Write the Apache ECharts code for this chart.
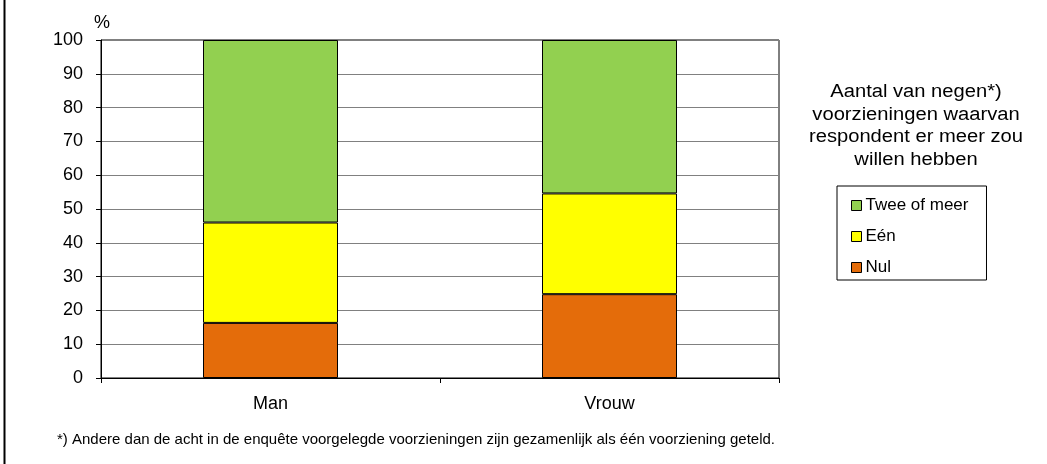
<!DOCTYPE html>
<html>
<head>
<meta charset="utf-8">
<script src="https://cdn.jsdelivr.net/npm/echarts@6/dist/echarts.min.js"></script>
<style>
  html, body { margin: 0; padding: 0; background: #fff; }
  #chart { width: 1047px; height: 464px; }
</style>
</head>
<body>
<div id="chart"></div>
<script>
  // categorieen en waarden (%)
  var categories = ['Man', 'Vrouw'];
  var nul = [16.3, 24.8];
  var een = [29.7, 29.8];
  var tweeOfMeer = [54.0, 45.4];
  var seriesNames = ['Nul', 'Eén', 'Twee of meer'];
  var yTicks = [0, 10, 20, 30, 40, 50, 60, 70, 80, 90, 100];

  var fontFam = '"Liberation Sans", Arial, sans-serif';
  var myChart = echarts.init(document.getElementById('chart'));

  function barSerie(name, data, color) {
    return {
      name: name,
      type: 'bar',
      stack: 'totaal',
      barWidth: 135,
      data: data,
      itemStyle: { color: color, borderColor: '#000', borderWidth: 1 }
    };
  }

  var option = {
    backgroundColor: '#fff',
    animation: false,
    textStyle: { fontFamily: fontFam, color: '#000' },
    grid: {
      left: 101,
      right: 268,
      top: 40,
      bottom: 86,
      show: true,
      borderColor: '#000',
      borderWidth: 1
    },
    legend: {
      data: seriesNames.slice().reverse(),
      orient: 'vertical',
      left: 837,
      top: 186,
      icon: 'rect',
      itemWidth: 10,
      itemHeight: 10,
      itemGap: 14,
      padding: [11, 18, 4, 14],
      borderColor: '#000',
      borderWidth: 1,
      itemStyle: { borderColor: '#000', borderWidth: 1 },
      textStyle: { fontFamily: fontFam, fontSize: 17, color: '#000', padding: [0, 0, 0, -1] }
    },
    xAxis: {
      type: 'category',
      data: categories,
      axisLine: { lineStyle: { color: '#000', width: 1 } },
      axisTick: { show: true, length: 5, lineStyle: { color: '#000' } },
      axisLabel: { color: '#000', fontSize: 18, margin: 17, fontFamily: fontFam }
    },
    yAxis: {
      type: 'value',
      min: 0,
      max: 100,
      interval: 10,
      name: '%',
      nameLocation: 'end',
      nameGap: 8,
      nameTextStyle: { color: '#000', fontSize: 18, fontFamily: fontFam, align: 'right', padding: [0, -9, 0, 0] },
      axisLine: { show: true, lineStyle: { color: '#000', width: 1 } },
      axisTick: { show: true, length: 5, lineStyle: { color: '#000' } },
      axisLabel: {
        color: '#000', fontSize: 18, margin: 18, fontFamily: fontFam,
        formatter: function (v) { return yTicks.indexOf(v) >= 0 ? String(v) : ''; }
      },
      splitLine: { show: true, lineStyle: { color: '#808080', width: 1 } }
    },
    graphic: [
      {
        type: 'line',
        shape: { x1: 4.5, y1: 0, x2: 4.5, y2: 464 },
        style: { stroke: '#000', lineWidth: 2 }
      },
      {
        type: 'text',
        x: 916,
        y: 81,
        scaleX: 1.12,
        style: {
          text: 'Aantal van negen*)\nvoorzieningen waarvan\nrespondent er meer zou\nwillen hebben',
          fontFamily: fontFam,
          fontSize: 18,
          lineHeight: 22.5,
          fill: '#000',
          align: 'center',
          verticalAlign: 'top'
        }
      },
      {
        type: 'text',
        x: 57,
        y: 432,
        style: {
          text: '*) Andere dan de acht in de enquête voorgelegde voorzieningen zijn gezamenlijk als één voorziening geteld.',
          fontFamily: fontFam,
          fontSize: 15,
          fill: '#000',
          verticalAlign: 'top'
        }
      }
    ],
    series: [
      barSerie('Nul', nul, '#E46C0A'),
      barSerie('Eén', een, '#FFFF00'),
      barSerie('Twee of meer', tweeOfMeer, '#92D050')
    ]
  };

  myChart.setOption(option, true);
  window.onresize = function () {
    myChart.resize();
  };
</script>
</body>
</html>
